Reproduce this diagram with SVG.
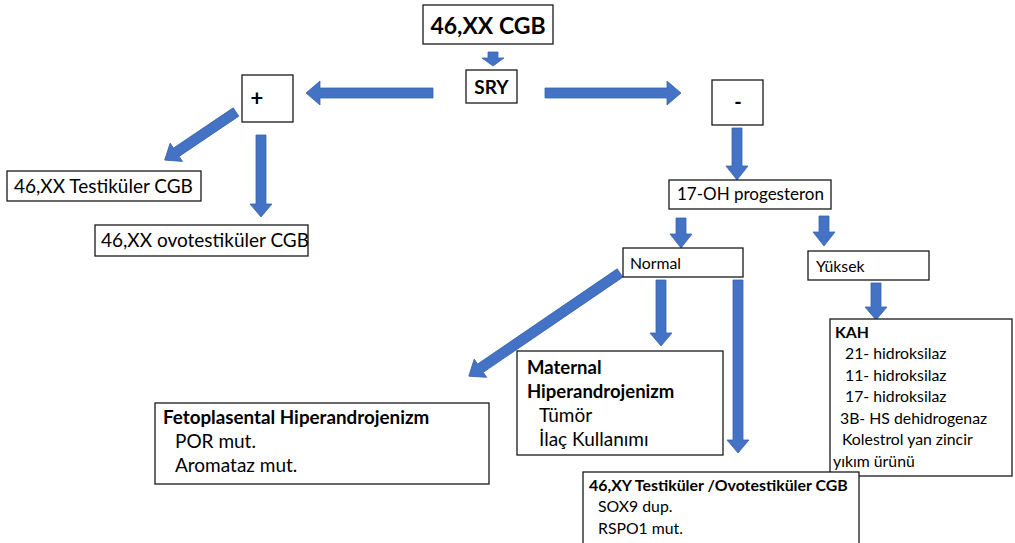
<svg xmlns="http://www.w3.org/2000/svg" width="1015" height="543" viewBox="0 0 1015 543">
  <style>
    .box { fill: #ffffff; stroke: #1a1a1a; stroke-width: 1.3; }
    .arrow { fill: #4472c4; stroke: #3b64ad; stroke-width: 0.8; }
    text { font-family: Lato, "Open Sans", "Liberation Sans", sans-serif; fill: #000000; }
    .b { font-weight: bold; }
    .sm { font-size: 15.8px; }
    .md { font-size: 19px; }
  </style>
  <rect width="1015" height="543" fill="#ffffff"/>

  <!-- connectors -->
  <g id="connectors">
    <!-- 46,XX CGB -> SRY -->
    <polygon class="arrow" points="488,52 498,52 498,58 504,58 493,66 482,58 488,58"/>
    <!-- SRY -> + -->
    <polygon class="arrow" points="433,88 320,88 320,81 306,93 320,105 320,98 433,98"/>
    <!-- SRY -> - -->
    <polygon class="arrow" points="545,88 667,88 667,81 681,93 667,105 667,98 545,98"/>
    <!-- + -> 46,XX Testiküler CGB -->
    <polygon class="arrow" transform="translate(236,112) rotate(146)" points="0,-5 72,-5 72,-11 86,0 72,11 72,5 0,5"/>
    <!-- + -> 46,XX ovotestiküler CGB -->
    <polygon class="arrow" points="256,135 266,135 266,204 272,204 261,217 250,204 256,204"/>
    <!-- - -> 17-OH progesteron -->
    <polygon class="arrow" points="732,128 742,128 742,166 748,166 737,180 726,166 732,166"/>
    <!-- 17-OH -> Normal -->
    <polygon class="arrow" points="676,218 686,218 686,234 692,234 681,248 670,234 676,234"/>
    <!-- 17-OH -> Yüksek -->
    <polygon class="arrow" points="819,216 829,216 829,232 835,232 824,246 813,232 819,232"/>
    <!-- Yüksek -> KAH -->
    <polygon class="arrow" points="871,283 881,283 881,307 887,307 876,320 865,307 871,307"/>
    <!-- Normal -> Fetoplasental -->
    <polygon class="arrow" transform="translate(620,273) rotate(145.7)" points="0,-5 169,-5 169,-11 183,0 169,11 169,5 0,5"/>
    <!-- Normal -> Maternal -->
    <polygon class="arrow" points="656,280 666,280 666,333 672,333 661,346 650,333 656,333"/>
    <!-- Normal -> 46,XY -->
    <polygon class="arrow" points="733,280 743,280 743,440 749,440 738,453 727,440 733,440"/>
  </g>

  <g id="node-root">
    <rect class="box" x="423" y="5" width="130" height="39"/>
    <text class="b" x="488" y="34" font-size="23" text-anchor="middle">46,XX CGB</text>
  </g>
  <g id="node-sry">
    <rect class="box" x="466" y="70" width="51" height="33"/>
    <text class="b" x="491.5" y="94" font-size="19" text-anchor="middle">SRY</text>
  </g>
  <g id="node-plus">
    <rect class="box" x="242" y="75" width="51" height="47"/>
    <text class="b" x="257" y="106" font-size="22" text-anchor="middle">+</text>
  </g>
  <g id="node-minus">
    <rect class="box" x="712" y="80" width="51" height="45"/>
    <text class="b" x="738" y="109" font-size="20" text-anchor="middle">-</text>
  </g>
  <g id="node-xx-testikuler">
    <rect class="box" x="7" y="171" width="194" height="30"/>
    <text class="md" x="14" y="193">46,XX Testiküler CGB</text>
  </g>
  <g id="node-xx-ovotestikuler">
    <rect class="box" x="95" y="225" width="213" height="31"/>
    <text class="md" x="101" y="247">46,XX ovotestiküler CGB</text>
  </g>
  <g id="node-17oh">
    <rect class="box" x="669" y="180" width="162" height="29"/>
    <text x="677" y="200" font-size="17">17-OH progesteron</text>
  </g>
  <g id="node-normal">
    <rect class="box" x="623" y="248" width="120" height="29"/>
    <text class="sm" x="630" y="269">Normal</text>
  </g>
  <g id="node-yuksek">
    <rect class="box" x="808" y="251" width="121" height="29"/>
    <text class="sm" x="816" y="272">Yüksek</text>
  </g>
  <g id="node-kah">
    <rect class="box" x="830" y="319" width="182" height="157"/>
    <text class="sm b" x="835" y="338">KAH</text>
    <text class="sm" x="845" y="359">21- hidroksilaz</text>
    <text class="sm" x="845" y="381">11- hidroksilaz</text>
    <text class="sm" x="845" y="402">17- hidroksilaz</text>
    <text class="sm" x="840" y="424">3B- HS dehidrogenaz</text>
    <text class="sm" x="842" y="445">Kolestrol yan zincir</text>
    <text class="sm" x="833" y="467">yıkım ürünü</text>
  </g>
  <g id="node-maternal">
    <rect class="box" x="517" y="351" width="206" height="104"/>
    <text class="b" x="527" y="374" font-size="18.5">Maternal</text>
    <text class="b" x="527" y="398" font-size="18.5">Hiperandrojenizm</text>
    <text class="md" x="539" y="422">Tümör</text>
    <text class="md" x="539" y="446">İlaç Kullanımı</text>
  </g>
  <g id="node-fetoplasental">
    <rect class="box" x="155" y="403" width="334" height="81"/>
    <text class="b" x="163" y="424" font-size="18.8">Fetoplasental Hiperandrojenizm</text>
    <text class="md" x="175" y="448">POR mut.</text>
    <text class="md" x="175" y="472">Aromataz mut.</text>
  </g>
  <g id="node-xy">
    <rect class="box" x="583" y="472" width="276" height="75"/>
    <text class="b" x="589" y="491" font-size="15.9">46,XY Testiküler /Ovotestiküler CGB</text>
    <text class="sm" x="598" y="512">SOX9 dup.</text>
    <text class="sm" x="598" y="534">RSPO1 mut.</text>
  </g>
</svg>
